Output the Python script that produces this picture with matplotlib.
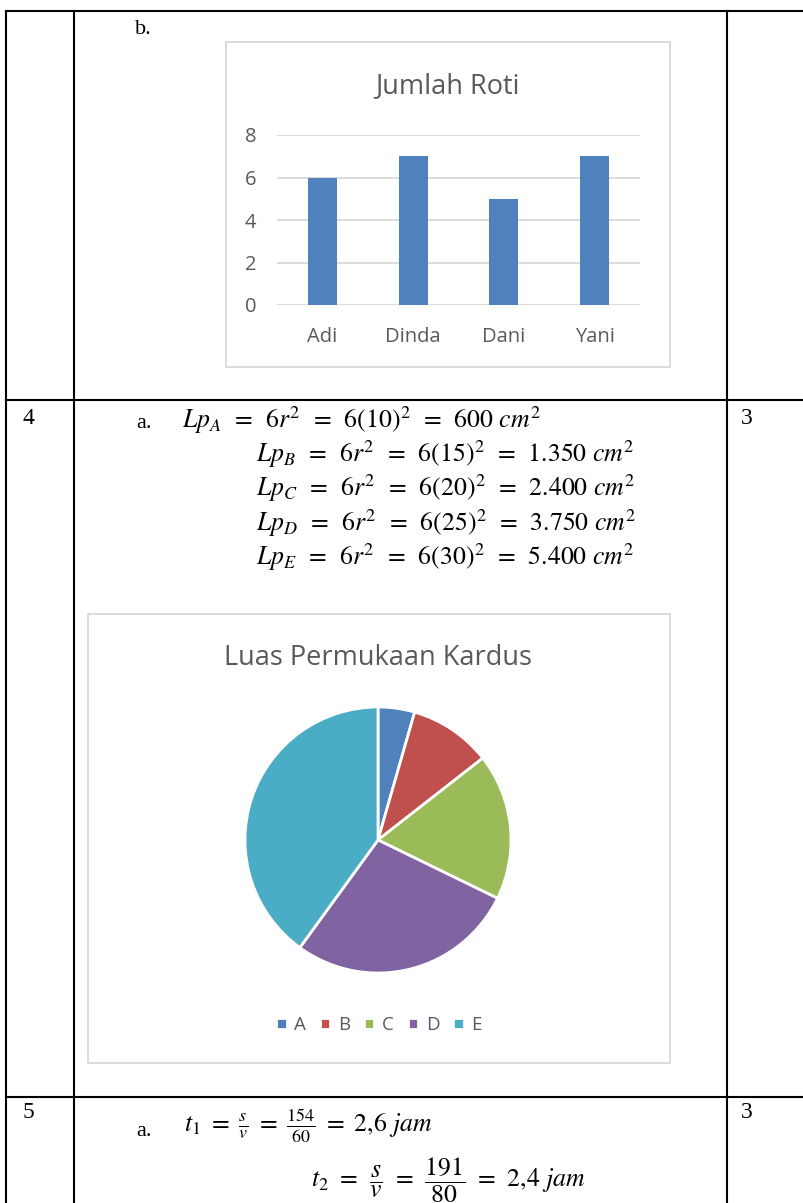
import matplotlib
matplotlib.use("Agg")
import matplotlib.pyplot as plt
from matplotlib.patches import Rectangle

# data
nama = ["Adi", "Dinda", "Dani", "Yani"]
jumlah_roti = [6, 7, 5, 7]
kardus = ["A", "B", "C", "D", "E"]
luas = [600, 1350, 2400, 3750, 5400]
warna_pie = ["#4F81BD", "#C0504D", "#9BBB59", "#8064A2", "#4BACC6"]
sisi = ["10", "15", "20", "25", "30"]
luas_teks = ["600", "1.350", "2.400", "3.750", "5.400"]

W, H = 804, 1203
plt.rcParams["mathtext.fontset"] = "stix"
fig = plt.figure(figsize=(W / 100, H / 100), dpi=100)
fig.patch.set_facecolor("white")


def px_axes(x0, y0, x1, y1):
    return fig.add_axes([x0 / W, 1 - y1 / H, (x1 - x0) / W, (y1 - y0) / H])


def sama(sp):
    # tanda "=" dengan jarak kiri-kanan
    return rf"\hspace{{{sp}}}=\hspace{{{sp}}}"


# background / table
bg = fig.add_axes([0, 0, 1, 1])
bg.set_xlim(0, W)
bg.set_ylim(H, 0)
bg.axis("off")

lw = 1.5
for y in [11, 400, 1097]:
    bg.plot([6, W], [y, y], color="black", lw=lw)
for x in [6, 74, 727]:
    bg.plot([x, x], [11, H], color="black", lw=lw)

serif = "Liberation Serif"
bg.text(135, 30, "b.", fontsize=16, family=serif, va="center")
bg.text(23, 419, "4", fontsize=17, family=serif, va="center")
bg.text(741, 419, "3", fontsize=17, family=serif, va="center")
bg.text(23, 1112, "5", fontsize=17, family=serif, va="center")
bg.text(741, 1112, "3", fontsize=17, family=serif, va="center")
bg.text(136, 424, "a.", fontsize=16, family=serif, va="center")
bg.text(136, 1132, "a.", fontsize=16, family=serif, va="center")

# persamaan luas permukaan
eq = sama(0.5)
for i, k in enumerate(kardus):
    s = rf"$Lp_{k}{eq}6r^2{eq}6({sisi[i]})^2{eq}{luas_teks[i]}\ cm^2$"
    x = 182 if i == 0 else 256
    bg.text(x, 420 + i * 34.3, s, fontsize=18.5, va="center")

# persamaan waktu
eq1 = sama(0.32)
eq2 = sama(0.42)
bg.text(184, 1126, rf"$t_1{eq1}\frac{{s}}{{v}}{eq1}\frac{{154}}{{60}}{eq1}2{{,}}6\ jam$",
        fontsize=18.5, va="center")
bg.text(311, 1180, rf"$t_2{eq2}\dfrac{{s}}{{v}}{eq2}\dfrac{{191}}{{80}}{eq2}2{{,}}4\ jam$",
        fontsize=18.5, va="center")

# kotak grafik
box_c = "#d9d9d9"
bg.add_patch(Rectangle((226, 42), 444, 325, facecolor="white", edgecolor=box_c, lw=1.3))
bg.add_patch(Rectangle((88, 614), 582, 449, facecolor="white", edgecolor=box_c, lw=1.3))

sans = "Open Sans"
grey = "#595959"
bg.text(447, 86, "Jumlah Roti", fontsize=19.5, family=sans, color=grey,
        ha="center", va="center")
bg.text(378, 658, "Luas Permukaan Kardus", fontsize=19.5, family=sans, color=grey,
        ha="center", va="center")

# bar chart
ax = px_axes(277, 135, 640, 305)
ax.bar(range(len(nama)), jumlah_roti, width=0.32, color="#4F81BD", zorder=3)
ax.set_xlim(-0.5, 3.5)
ax.set_ylim(0, 8)
ax.set_yticks([0, 2, 4, 6, 8])
ax.set_xticks(range(len(nama)))
ax.set_xticklabels(nama)
ax.yaxis.grid(True, color=box_c, lw=1.3, zorder=0)
ax.set_axisbelow(True)
for s in ax.spines.values():
    s.set_visible(False)
ax.tick_params(length=0, labelsize=14.5, labelcolor=grey)
ax.tick_params(axis="y", pad=15)
ax.tick_params(axis="x", pad=16)
for lab in ax.get_xticklabels() + ax.get_yticklabels():
    lab.set_family(sans)
ax.patch.set_alpha(0)

# pie chart
r = 133
pax = px_axes(378 - r, 840 - r, 378 + r, 840 + r)
wedges, _ = pax.pie(luas, colors=warna_pie, startangle=90, counterclock=False,
                    wedgeprops=dict(edgecolor="white", linewidth=2))
pax.set_xlim(-1, 1)
pax.set_ylim(-1, 1)
pax.set_aspect("equal")
fig.legend(wedges, kardus, loc="center", bbox_to_anchor=(379 / W, 1 - 1025 / H),
           ncol=5, frameon=False, handlelength=0.55, handleheight=0.55,
           handletextpad=0.4, columnspacing=0.75,
           prop={"family": sans, "size": 13.5}, labelcolor=grey)

fig.savefig("out.png", dpi=100)
